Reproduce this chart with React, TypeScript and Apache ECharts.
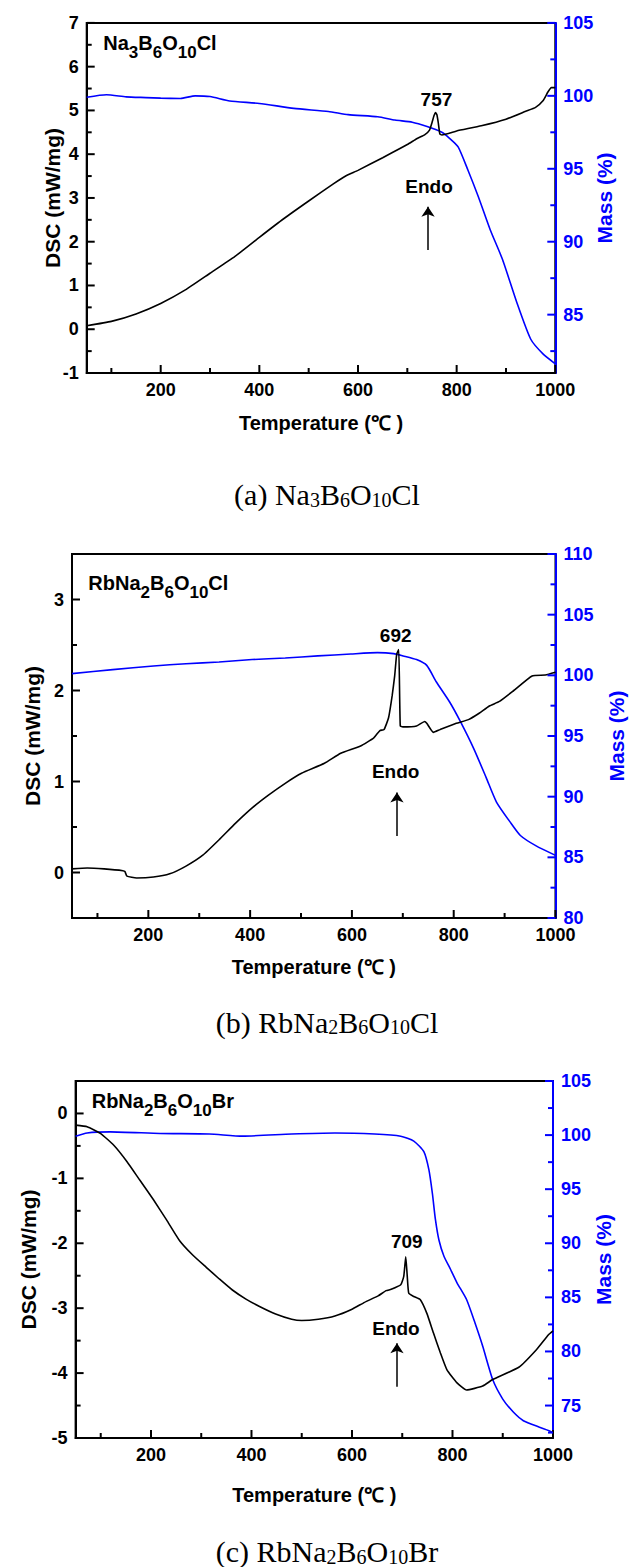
import React, { useEffect, useRef } from "react";
import * as echarts from "echarts";

const X_MAJOR = [200, 400, 600, 800, 1000];
const X_MINOR = [100, 300, 500, 700, 900];

// ---------- Panel (a) Na3B6O10Cl ----------
const A_DSC_T = [50, 100, 150, 200, 250, 300, 350, 400, 450, 500, 550, 575, 600, 650, 700, 720, 735, 745, 750, 754, 757, 760, 763, 766, 770, 800, 850, 900, 940, 960, 975, 985, 992, 1000];
const A_DSC = [0.08, 0.18, 0.35, 0.59, 0.9, 1.28, 1.66, 2.1, 2.53, 2.93, 3.32, 3.5, 3.63, 3.92, 4.22, 4.36, 4.44, 4.55, 4.72, 4.88, 4.95, 4.9, 4.7, 4.46, 4.44, 4.53, 4.65, 4.8, 4.98, 5.07, 5.22, 5.42, 5.52, 5.52];
const A_TG_T = [50, 90, 130, 170, 200, 240, 270, 300, 340, 400, 470, 540, 580, 640, 675, 710, 740, 770, 785, 803, 823, 844, 868, 893, 922, 950, 975, 1000];
const A_MASS = [99.9, 100.07, 99.93, 99.88, 99.84, 99.82, 100.0, 99.95, 99.65, 99.48, 99.14, 98.93, 98.71, 98.57, 98.34, 98.19, 97.89, 97.5, 97.1, 96.5, 94.9, 93.08, 90.82, 88.78, 85.83, 83.33, 82.31, 81.63];
const A_DSC_TICKS = [-1, 0, 1, 2, 3, 4, 5, 6, 7];
const A_DSC_MINOR = [-0.5, 0.5, 1.5, 2.5, 3.5, 4.5, 5.5, 6.5];
const A_MASS_TICKS = [85, 90, 95, 100, 105];
const A_MASS_MINOR = [82.5, 87.5, 92.5, 97.5, 102.5];

// ---------- Panel (b) RbNa2B6O10Cl ----------
const B_DSC_T = [50, 80, 113, 150, 154, 158, 177, 210, 242, 274, 307, 339, 371, 404, 436, 469, 501, 546, 578, 617, 643, 655, 663, 672, 679, 684, 688, 692, 695, 700, 727, 743, 747, 760, 773, 805, 829, 850, 870, 890, 918, 954, 980, 1000];
const B_DSC = [0.04, 0.05, 0.04, 0.02, 0.01, -0.04, -0.06, -0.05, -0.015, 0.07, 0.19, 0.36, 0.54, 0.71, 0.85, 0.98, 1.09, 1.2, 1.31, 1.39, 1.48, 1.56, 1.57, 1.7, 1.94, 2.16, 2.4, 2.45, 1.61, 1.6, 1.61, 1.66, 1.64, 1.54, 1.57, 1.64, 1.68, 1.75, 1.83, 1.88, 2.0, 2.16, 2.17, 2.2];
const B_TG_T = [50, 130, 210, 274, 339, 404, 469, 533, 598, 650, 682, 701, 727, 747, 766, 792, 813, 840, 864, 884, 911, 931, 962, 1000];
const B_MASS = [100.14, 100.47, 100.77, 100.96, 101.1, 101.3, 101.43, 101.6, 101.76, 101.87, 101.79, 101.6, 101.3, 100.82, 99.45, 97.8, 96.2, 93.9, 91.55, 89.56, 87.9, 86.8, 85.94, 85.16];
const B_DSC_TICKS = [0, 1, 2, 3];
const B_DSC_MINOR = [0.5, 1.5, 2.5];
const B_MASS_TICKS = [80, 85, 90, 95, 100, 105, 110];
const B_MASS_MINOR = [82.5, 87.5, 92.5, 97.5, 102.5, 107.5];

// ---------- Panel (c) RbNa2B6O10Br ----------
const C_DSC_T = [50, 73, 100, 126, 152, 178, 205, 231, 257, 283, 310, 336, 362, 389, 415, 448, 480, 500, 533, 566, 599, 625, 652, 668, 678, 697, 703, 707, 710, 713, 723, 736, 749, 762, 776, 789, 809, 828, 860, 880, 932, 967, 991, 1000];
const C_DSC = [-0.18, -0.205, -0.31, -0.49, -0.74, -1.03, -1.33, -1.64, -1.96, -2.18, -2.37, -2.55, -2.72, -2.86, -2.97, -3.09, -3.17, -3.19, -3.17, -3.12, -3.02, -2.91, -2.81, -2.73, -2.71, -2.64, -2.51, -2.21, -2.51, -2.77, -2.82, -2.87, -3.08, -3.38, -3.69, -3.95, -4.15, -4.26, -4.2, -4.1, -3.91, -3.64, -3.41, -3.35];
const C_TG_T = [50, 73, 119, 218, 316, 382, 480, 566, 645, 697, 723, 743, 753, 760, 766, 773, 783, 796, 809, 828, 845, 860, 880, 900, 921, 941, 973, 991, 1000];
const C_MASS = [99.9, 100.2, 100.3, 100.15, 100.1, 99.9, 100.1, 100.2, 100.1, 99.9, 99.45, 98.47, 96.8, 94.6, 92.2, 90.3, 88.8, 87.6, 86.35, 84.8, 82.6, 80.5, 77.4, 75.6, 74.4, 73.6, 73.0, 72.7, 72.5];
const C_DSC_TICKS = [-5, -4, -3, -2, -1, 0];
const C_DSC_MINOR = [-4.5, -3.5, -2.5, -1.5, -0.5];
const C_MASS_TICKS = [75, 80, 85, 90, 95, 100, 105];
const C_MASS_MINOR = [72.5, 77.5, 82.5, 87.5, 92.5, 97.5, 102.5];

const A_PEAK = "757";
const B_PEAK = "692";
const C_PEAK = "709";

const SANS = "'Liberation Sans', Arial, sans-serif";
const SERIF = "'Liberation Serif', 'Times New Roman', serif";
const BLUE = "#0000ff";
const X_MIN = 50;
const X_MAX = 1000;
const MAJOR_LEN = 8;
const MINOR_LEN = 5;

const panels = [
  {
    grid: { left: 86.7, top: 22.9, width: 468.6, height: 350.1 },
    dscRange: [-1, 7], dscTicks: A_DSC_TICKS, dscMinor: A_DSC_MINOR,
    massRange: [81, 105], massTicks: A_MASS_TICKS, massMinor: A_MASS_MINOR,
    dscT: A_DSC_T, dsc: A_DSC, tgT: A_TG_T, mass: A_MASS,
    xGap: 40, lGap: 24, rGap: 39,
    peak: A_PEAK, peakPos: [759, 5.24], endoPos: [744, 3.27], arrow: [742, 1.81, 2.8],
  },
  {
    grid: { left: 72, top: 554, width: 489, height: 364 },
    dscRange: [-0.5, 3.5], dscTicks: B_DSC_TICKS, dscMinor: B_DSC_MINOR,
    massRange: [80, 110], massTicks: B_MASS_TICKS, massMinor: B_MASS_MINOR,
    dscT: B_DSC_T, dsc: B_DSC, tgT: B_TG_T, mass: B_MASS,
    xGap: 38.5, lGap: 29.5, rGap: 50.5,
    peak: B_PEAK, peakPos: [686, 2.6], endoPos: [686, 1.11], arrow: [688.5, 0.4, 0.88],
  },
  {
    grid: { left: 75.6, top: 1081, width: 477.4, height: 357 },
    dscRange: [-5, 0.5], dscTicks: C_DSC_TICKS, dscMinor: C_DSC_MINOR,
    massRange: [72, 105], massTicks: C_MASS_TICKS, massMinor: C_MASS_MINOR,
    dscT: C_DSC_T, dsc: C_DSC, tgT: C_TG_T, mass: C_MASS,
    xGap: 47, lGap: 37, rGap: 39.5,
    peak: C_PEAK, peakPos: [709, -1.98], endoPos: [687.5, -3.31], arrow: [689.5, -4.21, -3.54],
  },
];

const labelStyle = (color: string, size: number) => ({
  color, fontSize: size, fontWeight: "bold", fontFamily: SANS,
});
const fmt = (v: number) => String(v);

// inward tick marks, placed through the axes' own scales (api.coord)
function tickSeries(xIdx: number, yIdx: number, data: number[][], color: string, dir: number[]) {
  return {
    type: "custom", xAxisIndex: xIdx, yAxisIndex: yIdx, silent: true, clip: false, z: 6,
    encode: { x: 0, y: 1 },
    data,
    renderItem: (_params: any, api: any) => {
      const p = api.coord([api.value(0), api.value(1)]);
      const len = api.value(2);
      return {
        type: "line",
        shape: { x1: p[0], y1: p[1], x2: p[0] + dir[0] * len, y2: p[1] + dir[1] * len },
        style: { stroke: color, lineWidth: 2 },
      };
    },
  };
}

function buildOption() {
  const grid: any[] = [];
  const xAxis: any[] = [];
  const yAxis: any[] = [];
  const series: any[] = [];

  panels.forEach((p, g) => {
    grid.push({ ...p.grid, show: true, borderColor: "#000", borderWidth: 2, backgroundColor: "transparent" });
    xAxis.push({
      type: "value", gridIndex: g, min: X_MIN, max: X_MAX, position: "bottom",
      axisLine: { show: true, onZero: false, lineStyle: { color: "#000", width: 2 } },
      axisTick: { show: false },
      axisLabel: { show: true, customValues: X_MAJOR, formatter: fmt, margin: 8, ...labelStyle("#000", 18) },
      splitLine: { show: false },
      name: "Temperature (℃ )", nameLocation: "middle", nameGap: p.xGap, nameMoveOverlap: false,
      nameTextStyle: labelStyle("#000", 20),
    });
    const yAx = (side: string, range: number[], ticks: number[], color: string, name: string, gap: number) => ({
      type: "value", gridIndex: g, position: side, min: range[0], max: range[1],
      axisLine: { show: true, onZero: false, lineStyle: { color, width: 2 } },
      axisTick: { show: false },
      axisLabel: { show: true, customValues: ticks, formatter: fmt, margin: 8, showMinLabel: true, showMaxLabel: true, ...labelStyle(color, 18) },
      splitLine: { show: false },
      name, nameLocation: "middle", nameRotate: 90, nameGap: gap, nameMoveOverlap: false,
      nameTextStyle: labelStyle(color, 21),
    });
    yAxis.push(yAx("left", p.dscRange, p.dscTicks, "#000", "DSC (mW/mg)", p.lGap));
    yAxis.push(yAx("right", p.massRange, p.massTicks, BLUE, "Mass (%)", p.rGap));

    const yL = 2 * g;
    const yR = 2 * g + 1;

    series.push({
      type: "line", name: "Mass " + g, xAxisIndex: g, yAxisIndex: yR,
      data: p.tgT.map((t, i) => [t, p.mass[i]]),
      showSymbol: false, symbol: "none", smooth: 0.2,
      lineStyle: { color: BLUE, width: 1.6 }, z: 2,
    });
    series.push({
      type: "line", name: "DSC " + g, xAxisIndex: g, yAxisIndex: yL,
      data: p.dscT.map((t, i) => [t, p.dsc[i]]),
      showSymbol: false, symbol: "none", smooth: 0.15,
      lineStyle: { color: "#000", width: 1.6 }, z: 3,
      markPoint: {
        silent: true, symbol: "circle", symbolSize: 1,
        itemStyle: { color: "rgba(0,0,0,0)" },
        label: { show: true, position: "inside", ...labelStyle("#000", 19) },
        data: [
          { coord: p.peakPos, value: p.peak, label: { formatter: p.peak } },
          { coord: p.endoPos, value: "Endo", label: { formatter: "Endo" } },
        ],
      },
      markLine: {
        silent: true, symbol: ["none", "arrow"], symbolSize: 10,
        label: { show: false },
        lineStyle: { color: "#000", width: 1.5, type: "solid" },
        itemStyle: { color: "#000" },
        data: [[{ coord: [p.arrow[0], p.arrow[1]] }, { coord: [p.arrow[0], p.arrow[2]] }]],
      },
    });

    const yMin = p.dscRange[0];
    const xTicks = [
      ...X_MAJOR.map((t) => [t, yMin, MAJOR_LEN]),
      ...X_MINOR.map((t) => [t, yMin, MINOR_LEN]),
    ];
    const lTicks = [
      ...p.dscTicks.map((v) => [X_MIN, v, MAJOR_LEN]),
      ...p.dscMinor.map((v) => [X_MIN, v, MINOR_LEN]),
    ];
    const rTicks = [
      ...p.massTicks.map((v) => [X_MAX, v, MAJOR_LEN]),
      ...p.massMinor.map((v) => [X_MAX, v, MINOR_LEN]),
    ];
    series.push(tickSeries(g, yL, xTicks, "#000", [0, -1]));
    series.push(tickSeries(g, yL, lTicks, "#000", [1, 0]));
    series.push(tickSeries(g, yR, rTicks, BLUE, [-1, 0]));
  });

  const inRich = {
    n: { fontSize: 20, fontWeight: "bold", fontFamily: SANS, color: "#000", lineHeight: 20, verticalAlign: "top" },
    s: { fontSize: 17, fontWeight: "bold", fontFamily: SANS, color: "#000", lineHeight: 28, verticalAlign: "bottom" },
  };
  const capRich = {
    n: { fontSize: 30, fontFamily: SERIF, color: "#000", lineHeight: 30, verticalAlign: "top" },
    s: { fontSize: 20, fontFamily: SERIF, color: "#000", lineHeight: 30, verticalAlign: "bottom" },
  };
  const txt = (x: number, y: number, text: string, rich: any, align: string) => ({
    type: "text", x, y, silent: true,
    style: { text, rich, align, verticalAlign: "top" },
  });

  const graphic = [
    txt(103.3, 33.2, "{n|Na}{s|3}{n|B}{s|6}{n|O}{s|10}{n|Cl}", inRich, "left"),
    txt(88.3, 572.5, "{n|RbNa}{s|2}{n|B}{s|6}{n|O}{s|10}{n|Cl}", inRich, "left"),
    txt(91.7, 1090.9, "{n|RbNa}{s|2}{n|B}{s|6}{n|O}{s|10}{n|Br}", inRich, "left"),
    txt(327, 479.9, "{n|(a) Na}{s|3}{n|B}{s|6}{n|O}{s|10}{n|Cl}", capRich, "center"),
    txt(327, 1007, "{n|(b) RbNa}{s|2}{n|B}{s|6}{n|O}{s|10}{n|Cl}", capRich, "center"),
    txt(327, 1536.6, "{n|(c) RbNa}{s|2}{n|B}{s|6}{n|O}{s|10}{n|Br}", capRich, "center"),
  ];

  return {
    animation: false,
    backgroundColor: "#fff",
    grid, xAxis, yAxis, series, graphic,
  };
}

export default function App() {
  const ref = useRef<HTMLDivElement>(null);
  useEffect(() => {
    if (!ref.current) return;
    const chart = echarts.init(ref.current, undefined, { renderer: "svg" });
    chart.setOption(buildOption() as any);
    return () => chart.dispose();
  }, []);
  return (
    <div
      ref={ref}
      style={{ position: "absolute", left: 0, top: 0, width: 635, height: 1567, background: "#fff" }}
    />
  );
}
